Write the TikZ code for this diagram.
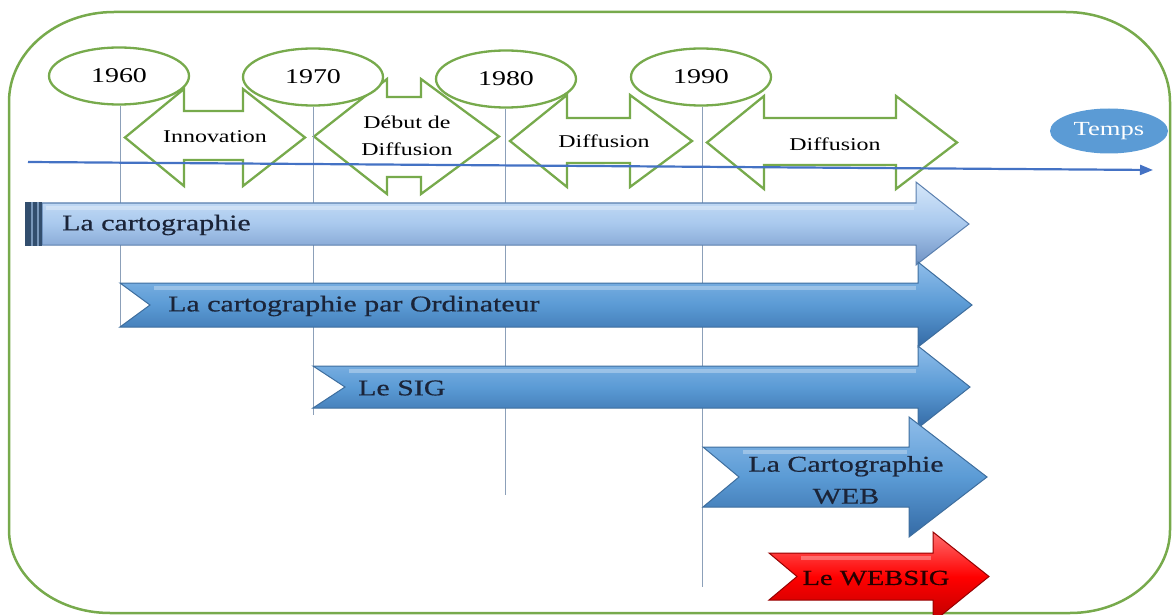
\documentclass[tikz,border=0pt]{standalone}
\usepackage{fontspec}
\setmainfont{Liberation Serif}[FakeStretch=1.33]
\newfontfamily\barfont{Liberation Serif}[FakeStretch=1.33,FakeBold=0.6]
\usetikzlibrary{arrows.meta,calc,shapes.geometric}
\definecolor{gr}{RGB}{119,170,76}
\definecolor{tlblue}{RGB}{68,114,196}
\definecolor{vgray}{RGB}{140,160,185}
\definecolor{txtdark}{RGB}{27,36,56}
\definecolor{lbTop}{RGB}{214,231,249}
\definecolor{lbMid}{RGB}{169,201,238}
\definecolor{lbBot}{RGB}{112,146,196}
\definecolor{lbLine}{RGB}{90,127,174}
\definecolor{mbTop}{RGB}{143,189,234}
\definecolor{mbMid}{RGB}{91,155,213}
\definecolor{mbBot}{RGB}{52,106,165}
\definecolor{mbLine}{RGB}{62,110,158}
\definecolor{rdTop}{RGB}{255,110,110}
\definecolor{rdMid}{RGB}{255,0,0}
\definecolor{rdBot}{RGB}{190,0,0}
\definecolor{rdLine}{RGB}{150,0,0}
\definecolor{tempsblue}{RGB}{91,155,213}
\definecolor{stripeD}{RGB}{50,78,110}
\definecolor{stripeL}{RGB}{120,150,185}
\newcommand{\mybar}[9]{%
  \path[#1] (#2,#4) -- (#6,#4) -- (#6,#7) -- (#9,{(#4+#5)/2}) -- (#6,#8) -- (#6,#5) -- (#2,#5) -- (#3,{(#4+#5)/2}) -- cycle;
  \draw[white, opacity=0.3, line width=4pt] ({#3+4},{#4+5}) -- ({#6-2},{#4+5});
}
\newcommand{\dblarrow}[8]{%
  \draw[dblarr] (#1,{(#5+#6)/2}) -- (#3,#5) -- (#3,#7) -- (#4,#7) -- (#4,#5) -- (#2,{(#5+#6)/2}) -- (#4,#6) -- (#4,#8) -- (#3,#8) -- (#3,#6) -- cycle;
}
\begin{document}
\begin{tikzpicture}[x=1pt,y=-1pt,
  frame/.style={draw=gr, line width=2.5pt},
  dblarr/.style={draw=gr, line width=2.3pt, fill=white, line join=miter},
  year/.style={ellipse, draw=gr, line width=2.3pt, fill=white, minimum width=140pt, minimum height=57pt, inner sep=0pt, font=\fontsize{21}{24}\selectfont},
  lbl/.style={font=\fontsize{18}{27}\selectfont, align=center, inner sep=0pt},
  bartxt/.style={font=\barfont\fontsize{22.5}{32}\selectfont, text=txtdark, align=center, inner sep=0pt},
  vline/.style={draw=vgray, line width=1pt},
  timeline/.style={draw=tlblue, line width=2.2pt, -{Triangle[length=13pt,width=10pt]}},
  lightbar/.style={top color=lbTop, bottom color=lbBot, middle color=lbMid, draw=lbLine, line width=1pt},
  medbar/.style={top color=mbTop, bottom color=mbBot, middle color=mbMid, draw=mbLine, line width=1pt},
  redbar/.style={top color=rdTop, bottom color=rdBot, middle color=rdMid, draw=rdLine, line width=1pt}
]
\useasboundingbox (0,0) rectangle (1176,615);
% outer frame
\draw[frame] (114,12) -- (1066,12) arc[start angle=-90, end angle=0, x radius=104, y radius=90] -- (1170,530) arc[start angle=0, end angle=90, x radius=100, y radius=83] -- (110,613) arc[start angle=90, end angle=180, x radius=101, y radius=83] -- (9,102) arc[start angle=180, end angle=270, x radius=105, y radius=90] -- cycle;

% double arrows
\dblarrow{125}{305}{184}{243}{89}{186}{111}{160}
\dblarrow{314}{499}{387}{421}{79}{194}{97}{177}
\dblarrow{510}{692}{567}{630}{95}{187}{118}{163}
\dblarrow{707}{957}{764}{896}{96}{189}{118}{165}

% year ellipses
\node[year] (y60) at (119,76) {1960};
\node[year] (y70) at (313,77) {1970};
\node[year] (y80) at (506,79) {1980};
\node[year] (y90) at (701,77) {1990};

% vertical lines
\coordinate (v60) at (120,327);
\coordinate (v70) at (313,415);
\coordinate (v80) at (505,495);
\coordinate (v90) at (702,587);
\draw[vline] (y60.south -| v60) -- (v60);
\draw[vline] (y70.south -| v70) -- (v70);
\draw[vline] (y80.south -| v80) -- (v80);
\draw[vline] (y90.south -| v90) -- (v90);

% timeline
\coordinate (tl0) at (28,162);
\coordinate (tl1) at (1153,170);
\draw[timeline] (tl0) -- (tl1);
\node[ellipse, fill=tempsblue, minimum width=118pt, minimum height=45pt, inner sep=0pt, text=white, font=\fontsize{20}{22}\selectfont] (temps) at (1109,131) {Temps};

% arrow labels
\node[lbl] (tinno) at (215,137) {Innovation};
\node[lbl] (tdebut) at (407,136) {Début de\\Diffusion};
\node[lbl] (tdiff1) at (604,141) {Diffusion};
\node[lbl] (tdiff2) at (835,144) {Diffusion};

% bars
\mybar{lightbar}{42}{42}{203}{245}{916}{182}{265}{969}
\fill[stripeD] (25,202) rectangle (31,246);
\fill[stripeL] (31,202) rectangle (33,246);
\fill[stripeD] (33,202) rectangle (37,246);
\fill[stripeL] (37,202) rectangle (39,246);
\fill[stripeD] (39,202) rectangle (42,246);
\mybar{medbar}{120}{150}{283}{327}{918}{262}{347}{972}
\mybar{medbar}{313}{345}{366}{408}{918}{346}{428}{970}
\mybar{medbar}{703}{739}{447}{507}{909}{417}{537}{987}
\mybar{redbar}{769}{797}{553}{600}{933}{532}{622}{989}

% bar labels
\node[bartxt, anchor=west] (b1) at (62,225) {La cartographie};
\node[bartxt, anchor=west] (b2) at (168,306) {La cartographie par Ordinateur};
\node[bartxt, anchor=west] (b3) at (358,388) {Le SIG};
\node[bartxt] (b4) at (846,480) {La Cartographie\\WEB};
\node[bartxt, text=black!85!red, font=\barfont\fontsize{21.5}{24}\selectfont] (b5) at (876,578) {Le WEBSIG};
\end{tikzpicture}
\end{document}
